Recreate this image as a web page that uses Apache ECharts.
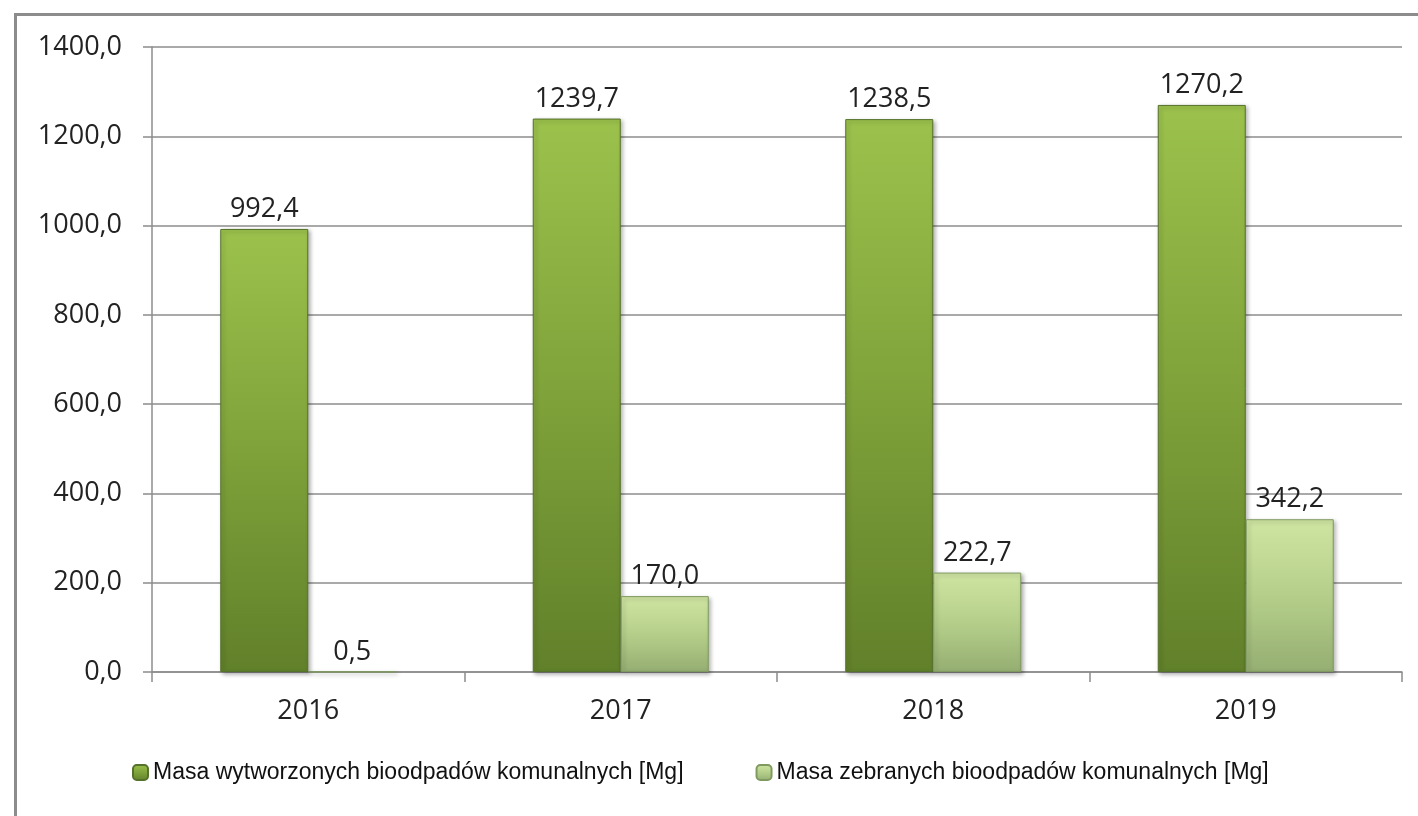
<!DOCTYPE html>
<html><head><meta charset="utf-8">
<script src="https://cdn.jsdelivr.net/npm/echarts@6/dist/echarts.min.js"></script>
<style>html,body{margin:0;padding:0;background:#fff}#c{width:1418px;height:816px}</style>
</head><body><div id="c"></div>
<script>
const categories = ['2016', '2017', '2018', '2019'];
const seriesNames = ['Masa wytworzonych bioodpadów komunalnych [Mg]', 'Masa zebranych bioodpadów komunalnych [Mg]'];
const generated = [992.4, 1239.7, 1238.5, 1270.2];
const collected = [0.5, 170.0, 222.7, 342.2];
const yTicks = [0, 200, 400, 600, 800, 1000, 1200, 1400];

const fmt = v => v.toFixed(1).replace('.', ',');
const font = 'Open Sans, DejaVu Sans, sans-serif';

function grad(top, mid, bot) {
  return new echarts.graphic.LinearGradient(0, 0, 0, 1, [
    {offset: 0, color: top}, {offset: 0.5, color: mid}, {offset: 1, color: bot}
  ]);
}

const chart = echarts.init(document.getElementById('c'));
chart.setOption({
  animation: false,
  backgroundColor: '#fff',
  graphic: [{
    type: 'rect', left: 13, top: 12, z: -10,
    shape: {width: 1420, height: 820},
    style: {fill: 'none', stroke: '#8c8c8c', lineWidth: 3}
  }],
  grid: {left: 152, right: 16, top: 47, bottom: 144},
  legend: {
    bottom: 27, left: 127, itemWidth: 15, itemHeight: 15, itemGap: 72,
    textStyle: {fontFamily: 'Liberation Sans, sans-serif', fontSize: 23, color: '#111'},
    data: seriesNames
  },
  xAxis: {
    type: 'category', data: categories,
    axisLine: {lineStyle: {color: '#8c8c8c', width: 1.5}},
    axisTick: {show: true, length: 10, lineStyle: {color: '#8c8c8c', width: 1.5}},
    axisLabel: {fontFamily: font, fontSize: 27, color: '#222', margin: 26}
  },
  yAxis: {
    type: 'value', min: 0, max: 1400, interval: 200,
    axisLine: {show: true, lineStyle: {color: '#8c8c8c', width: 1.5}},
    axisTick: {show: true, length: 9, lineStyle: {color: '#8c8c8c', width: 1.5}},
    splitLine: {lineStyle: {color: '#8c8c8c', width: 1.5}},
    axisLabel: {fontFamily: font, fontSize: 27, color: '#222', margin: 30,
      formatter: v => yTicks.includes(v) ? fmt(v) : ''}
  },
  series: [{
    name: seriesNames[0], type: 'bar', data: generated,
    barWidth: 88, barGap: '0%',
    itemStyle: {color: grad('#9cc24c', '#7fa23a', '#61802a'), borderColor: '#55722a', borderWidth: 1,
      shadowColor: 'rgba(0,0,0,0.3)', shadowBlur: 4, shadowOffsetX: 2, shadowOffsetY: 2},
    label: {show: true, position: 'top', distance: 6, fontFamily: font, fontSize: 27, color: '#222', formatter: p => fmt(p.value)}
  }, {
    name: seriesNames[1], type: 'bar', data: collected,
    barWidth: 88, barGap: '0%',
    itemStyle: {color: grad('#cfe5a2', '#b5cf8a', '#95ae72'), borderColor: '#7f9a60', borderWidth: 1,
      shadowColor: 'rgba(0,0,0,0.3)', shadowBlur: 4, shadowOffsetX: 2, shadowOffsetY: 2},
    label: {show: true, position: 'top', distance: 6, fontFamily: font, fontSize: 27, color: '#222', formatter: p => fmt(p.value)}
  }]
});
</script></body></html>
